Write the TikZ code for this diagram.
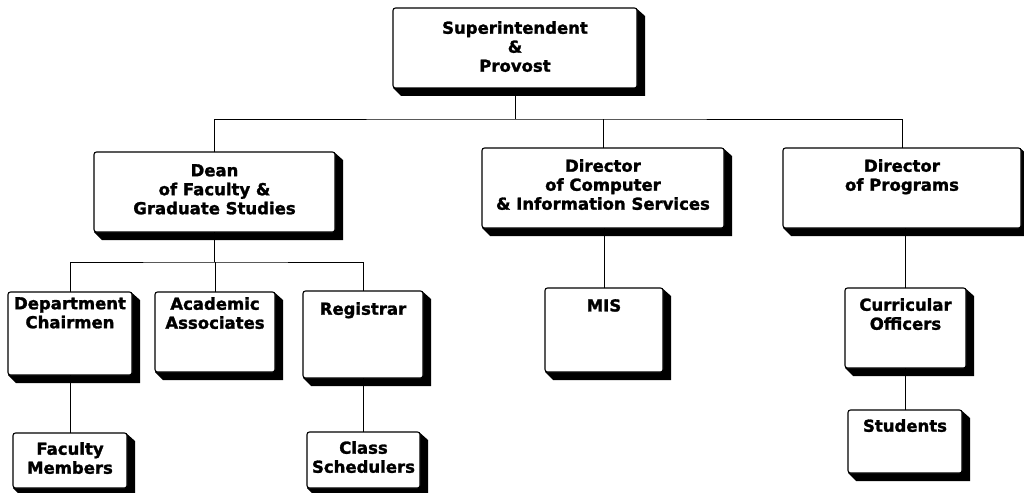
\documentclass[tikz,border=0pt]{standalone}
\usepackage{fontspec}
\setmainfont{DejaVu Sans}
\newfontfamily\heavyfont{DejaVu Sans}[BoldFeatures={FakeBold=1.6}]
\usetikzlibrary{calc}
\tikzset{
  orgbox/.style={draw=black, line width=1.1pt, fill=white, rounded corners=2.5pt,
    inner sep=0pt, outer sep=0pt, anchor=north west},
  lbl/.style={anchor=north, align=center, inner sep=0pt,
    font=\heavyfont\bfseries\fontsize{16.5}{19}\selectfont},
  wire/.style={line width=0.9pt},
  shade/.style={fill=black}
}
% #1 name, #2 left, #3 top, #4 right, #5 bottom, #6 text pad, #7 text
\newcommand{\OrgBox}[7]{%
  \fill[shade] (#4-1,#3) -- (#4+8,#3+8) -- (#4+8,#5+8) -- (#2+8,#5+8) -- (#2,#5) -- cycle;
  \node[orgbox, minimum width={(#4-#2)*1pt}, minimum height={(#5-#3)*1pt}] (#1) at (#2,#3) {};
  \node[lbl] (#1-t) at ($(#1.north)+(0,#6)$) {#7};
}
\begin{document}
\begin{tikzpicture}[x=1pt,y=-1pt]
\fill[white] (0,0) rectangle (1024,492);
\useasboundingbox (0,0) rectangle (1024,492);
\clip (0,0) rectangle (1024,492);

\OrgBox{sup}{393}{8}{637}{88}{13}{Superintendent\\\&\\Provost}
\OrgBox{dean}{94}{152}{335}{232}{12}{Dean\\of Faculty \&\\Graduate Studies}
\OrgBox{dirc}{482}{148}{724}{228}{11}{Director\\of Computer\\\& Information Services}
\OrgBox{dirp}{783}{148}{1021}{228}{11}{Director\\of Programs}
\OrgBox{dept}{8}{292}{132}{375}{5}{Department\\Chairmen}
\OrgBox{acad}{155}{292}{275}{372}{5}{Academic\\Associates}
\OrgBox{reg}{303}{291}{423}{378}{11}{Registrar}
\OrgBox{mis}{545}{288}{663}{372}{11}{MIS}
\OrgBox{cur}{845}{288}{966}{368}{10}{Curricular\\Officers}
\OrgBox{fac}{13}{433}{127}{488}{9}{Faculty\\Members}
\OrgBox{cls}{307}{432}{420}{488}{9}{Class\\Schedulers}
\OrgBox{stu}{848}{410}{962}{473}{9}{Students}

\coordinate (bus1) at (515,119);
\coordinate (bus2) at (214.5,262);

\draw[wire] (sup.south) -- (bus1);
\draw[wire] (dean.north) |- (bus1) -| (dirp.north);
\draw[wire] (dirc.north) -- (dirc.north |- bus1);
\draw[wire] (dean.south) -- (bus2);
\draw[wire] (dept.north) |- (bus2) -| (reg.north);
\draw[wire] (acad.north) -- (acad.north |- bus2);
\draw[wire] (fac.north) -- (fac.north |- dept.south);
\draw[wire] (reg.south) -- (reg.south |- cls.north);
\draw[wire] (mis.north) -- (mis.north |- dirc.south);
\draw[wire] (cur.north) -- (cur.north |- dirp.south);
\draw[wire] (stu.north) -- (stu.north |- cur.south);
\end{tikzpicture}
\end{document}
